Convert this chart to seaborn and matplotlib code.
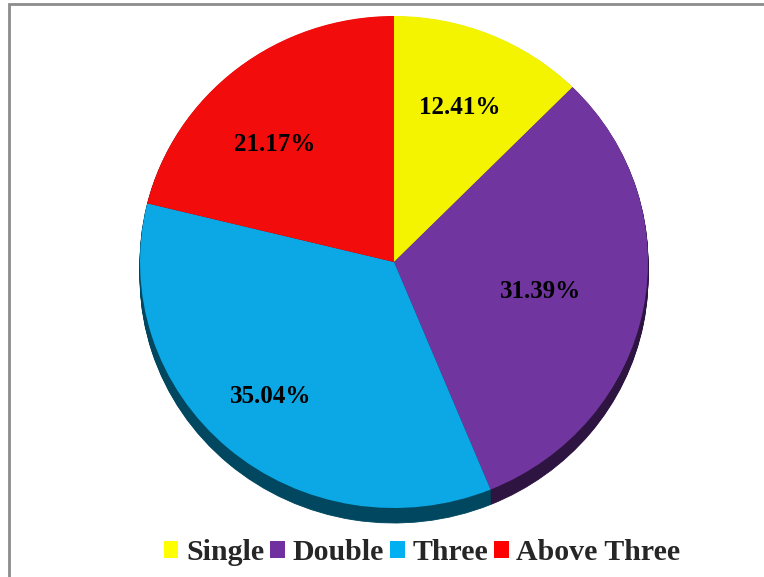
import matplotlib
matplotlib.use("Agg")
import matplotlib.pyplot as plt
import seaborn as sns
import numpy as np
from matplotlib.patches import Rectangle, Patch

sns.set_style("white")
plt.rcParams['font.family'] = ['Liberation Serif', 'DejaVu Serif']

categories = ["Single", "Double", "Three", "Above Three"]
values = [12.41, 31.39, 35.04, 21.17]
top_colors = ["#F4F400", "#7135A0", "#0BA8E5", "#F20C0C"]
side_colors = ["#8A8A00", "#2E1541", "#00475F", "#7A0606"]
legend_colors = ["#FFFF00", "#7030A0", "#00B0F0", "#FF0000"]

# label placement (layout): radial distance and angular shift per slice
label_radius = [0.68, 0.59, 0.73, 0.67]
label_shift_deg = [0, -0.7, -0.8, 6.5]

W, H, DPI = 7.64, 5.77, 100
fig = plt.figure(figsize=(W, H), dpi=DPI)
ax = fig.add_axes([0, 0, 1, 1])

cx_px, cy_px = 394, 262
rx_px, ry_px = 254, 246

depth = 15 / ry_px
nsteps = 16
for i in range(nsteps, 0, -1):
    off = depth * i / nsteps
    ax.pie(values, colors=side_colors, startangle=90, counterclock=False,
           center=(0, -off), frame=True, normalize=True,
           wedgeprops=dict(linewidth=0.6))
    for w, c in zip(ax.patches[-4:], side_colors):
        w.set_edgecolor(c)

wedges, texts, autotexts = ax.pie(
    values, colors=top_colors, startangle=90, counterclock=False,
    autopct=lambda p: f"{p:.2f}%", pctdistance=0.67, frame=True,
    normalize=True, wedgeprops=dict(linewidth=0),
    textprops=dict(fontsize=18, fontweight='bold', color='black'))

for w, t, r, s in zip(wedges, autotexts, label_radius, label_shift_deg):
    mid = np.deg2rad((w.theta1 + w.theta2) / 2 + s)
    t.set_position((r * np.cos(mid), r * np.sin(mid)))

ax.set_aspect('auto')
ax.set_position([0, 0, 1, 1])
ax.set_xlim(-cx_px / rx_px, (764 - cx_px) / rx_px)
ax.set_ylim(-(577 - cy_px) / ry_px, cy_px / ry_px)
ax.axis('off')

handles = [Patch(facecolor=c, edgecolor='none') for c in legend_colors]
fig.legend(handles, categories, loc='center', bbox_to_anchor=(422 / 764, 1 - 553 / 577),
           ncol=4, frameon=False, handlelength=0.5, handleheight=0.5,
           handletextpad=0.25, columnspacing=0.2, borderpad=0,
           prop=dict(family='Liberation Serif', weight='bold', size=21.5))

fig.patches.append(Rectangle((9 / 764, -0.1), 1.2, 1 - 4 / 577 + 0.1,
                             transform=fig.transFigure, fill=False,
                             edgecolor='#8C8C8C', linewidth=2, zorder=0))

fig.savefig("out.png", dpi=DPI, facecolor='white')
